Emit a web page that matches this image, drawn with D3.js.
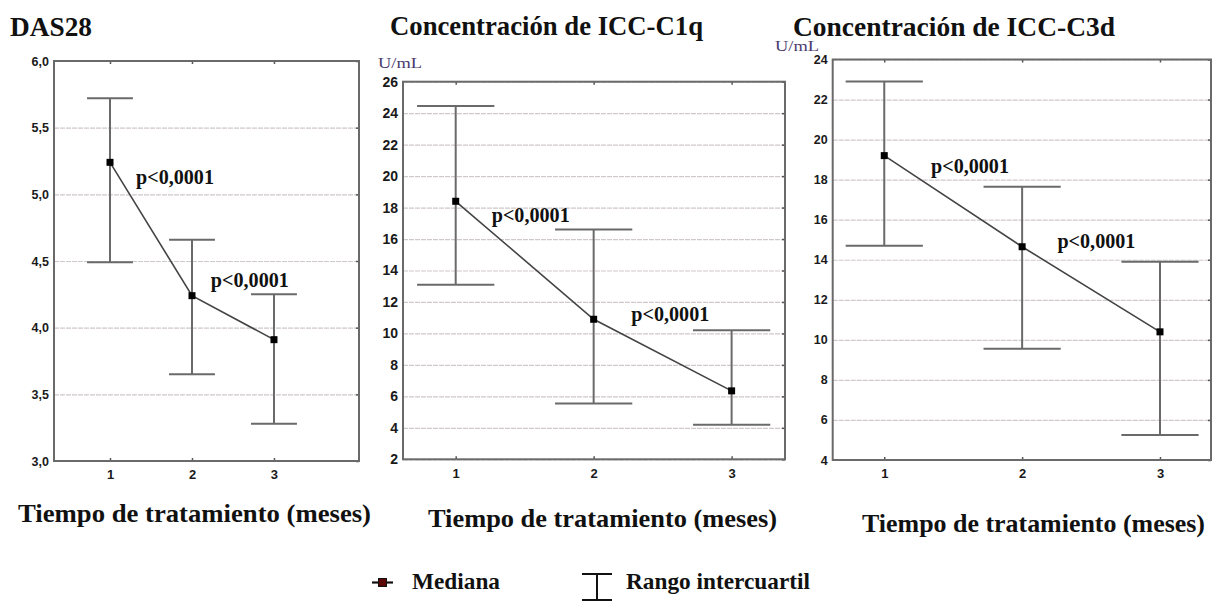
<!DOCTYPE html>
<html>
<head>
<meta charset="utf-8">
<script src="https://cdn.jsdelivr.net/npm/d3@7"></script>
<style>
  html, body { margin: 0; padding: 0; background: #fff; }
  svg { display: block; }
  .serif { font-family: 'Liberation Serif', Tinos, 'Times New Roman', Times, 'DejaVu Serif', serif; }
  .sans { font-family: 'Liberation Sans', Arial, sans-serif; }
</style>
</head>
<body>
<div id="chart"></div>
<script>
// Time points (months of treatment)
const timePoints = [1, 2, 3];

// DAS28: median and interquartile range
const das28Median = [5.24, 4.24, 3.91];
const das28Q1 = [4.49, 3.65, 3.28];
const das28Q3 = [5.72, 4.66, 4.25];
const das28Ticks = [3.0, 3.5, 4.0, 4.5, 5.0, 5.5, 6.0];
const das28TickLabels = ['3,0', '3,5', '4,0', '4,5', '5,0', '5,5', '6,0'];

// ICC-C1q (U/mL)
const c1qMedian = [18.4, 10.9, 6.35];
const c1qQ1 = [13.1, 5.55, 4.2];
const c1qQ3 = [24.45, 16.6, 10.2];
const c1qTicks = [2, 4, 6, 8, 10, 12, 14, 16, 18, 20, 22, 24, 26];

// ICC-C3d (U/mL)
const c3dMedian = [19.2, 14.65, 10.4];
const c3dQ1 = [14.7, 9.55, 5.25];
const c3dQ3 = [22.9, 17.65, 13.9];
const c3dTicks = [4, 6, 8, 10, 12, 14, 16, 18, 20, 22, 24];

const pLabel = 'p<0,0001';
const xLabel = 'Tiempo de tratamiento (meses)';

const width = 1215;
const height = 602;

const panels = [
    {
        title: 'DAS28', titleX: 10, titleY: 36, titleW: 82,
        unit: null,
        median: das28Median, q1: das28Q1, q3: das28Q3,
        ticks: das28Ticks, tickFmt: (d, i) => das28TickLabels[i], tickSize: 12.5,
        box: { l: 54, r: 359, t: 61, b: 461 },
        xDom: [0.317, 4.037], yDom: [3, 6],
        pPos: [[1.317, 5.08], [2.23, 4.305]],
        xLabelX: 18, xLabelY: 522, xLabelW: 353
    },
    {
        title: 'Concentración de ICC-C1q', titleX: 390, titleY: 35, titleW: 313,
        unit: { x: 378, y: 68 },
        median: c1qMedian, q1: c1qQ1, q3: c1qQ3,
        ticks: c1qTicks, tickFmt: d => d, tickSize: 14,
        box: { l: 403, r: 785, t: 81.7, b: 459.3 },
        xDom: [0.618, 3.387], yDom: [2, 26],
        pPos: [[1.261, 17.08], [2.273, 10.79]],
        xLabelX: 428, xLabelY: 527, xLabelW: 349
    },
    {
        title: 'Concentración de ICC-C3d', titleX: 793, titleY: 36, titleW: 322,
        unit: { x: 775, y: 51 },
        median: c3dMedian, q1: c3dQ1, q3: c3dQ3,
        ticks: c3dTicks, tickFmt: d => d, tickSize: 12.5,
        box: { l: 832.7, r: 1211, t: 59.5, b: 460 },
        xDom: [0.626, 3.37], yDom: [4, 24],
        pPos: [[1.339, 18.33], [2.256, 14.58]],
        xLabelX: 862, xLabelY: 532, xLabelW: 343
    }
];

const svg = d3.select('#chart')
    .append('svg')
    .attr('width', width)
    .attr('height', height)
    .attr('viewBox', `0 0 ${width} ${height}`);

const capHalf = 0.28; // half width of the IQR caps, in x units

panels.forEach(p => {
    const x = d3.scaleLinear().domain(p.xDom).range([p.box.l, p.box.r]);
    const y = d3.scaleLinear().domain(p.yDom).range([p.box.b, p.box.t]);
    const innerW = p.box.r - p.box.l;
    const g = svg.append('g');

    // Gridlines
    g.append('g')
        .attr('transform', `translate(${p.box.l},0)`)
        .call(d3.axisLeft(y).tickValues(p.ticks).tickSize(-innerW).tickFormat(''))
        .call(s => s.select('.domain').remove())
        .selectAll('.tick line')
        .attr('stroke', '#cfc8cc')
        .attr('stroke-width', 1.2)
        .attr('stroke-dasharray', '5,1');

    // Left axis with labels
    const yAxis = g.append('g')
        .attr('transform', `translate(${p.box.l},0)`)
        .call(d3.axisLeft(y).tickValues(p.ticks).tickSize(0).tickPadding(5).tickFormat(p.tickFmt));
    yAxis.select('.domain').remove();
    yAxis.attr('font-family', null).attr('font-size', null);
    yAxis.selectAll('text')
        .attr('class', 'sans')
        .attr('fill', '#1a1a1a')
        .attr('font-weight', 'bold')
        .attr('font-size', p.tickSize);

    // Right-side inward ticks
    g.append('g')
        .attr('transform', `translate(${p.box.r},0)`)
        .call(d3.axisRight(y).tickValues(p.ticks).tickSize(-3).tickFormat(''))
        .call(s => s.select('.domain').remove())
        .selectAll('.tick line').attr('stroke', '#555').attr('stroke-width', 1.5);

    // Bottom axis labels and ticks
    const xAxis = g.append('g')
        .attr('transform', `translate(0,${p.box.b})`)
        .call(d3.axisBottom(x).tickValues(timePoints).tickSize(-3).tickPadding(9).tickFormat(d3.format('d')));
    xAxis.select('.domain').remove();
    xAxis.attr('font-family', null).attr('font-size', null);
    xAxis.selectAll('.tick line').attr('stroke', '#555').attr('stroke-width', 1.5);
    xAxis.selectAll('text')
        .attr('class', 'sans')
        .attr('fill', '#1a1a1a')
        .attr('font-weight', 'bold')
        .attr('font-size', 13);

    // Top inward ticks
    g.append('g')
        .attr('transform', `translate(0,${p.box.t})`)
        .call(d3.axisTop(x).tickValues(timePoints).tickSize(-3).tickFormat(''))
        .call(s => s.select('.domain').remove())
        .selectAll('.tick line').attr('stroke', '#555').attr('stroke-width', 1.5);

    // Frame
    g.append('rect')
        .attr('x', p.box.l)
        .attr('y', p.box.t)
        .attr('width', innerW)
        .attr('height', p.box.b - p.box.t)
        .attr('fill', 'none')
        .attr('stroke', '#6a6a6a')
        .attr('stroke-width', 2);

    // Interquartile range bars
    const rows = timePoints.map((t, i) => ({ t, m: p.median[i], lo: p.q1[i], hi: p.q3[i] }));
    const bars = g.append('g').attr('stroke', '#6a6a6a').attr('stroke-width', 2).attr('fill', 'none');
    bars.selectAll('line.v').data(rows).enter().append('line')
        .attr('x1', d => x(d.t)).attr('x2', d => x(d.t))
        .attr('y1', d => y(d.lo)).attr('y2', d => y(d.hi));
    bars.selectAll('line.hi').data(rows).enter().append('line')
        .attr('x1', d => x(d.t - capHalf)).attr('x2', d => x(d.t + capHalf))
        .attr('y1', d => y(d.hi)).attr('y2', d => y(d.hi));
    bars.selectAll('line.lo').data(rows).enter().append('line')
        .attr('x1', d => x(d.t - capHalf)).attr('x2', d => x(d.t + capHalf))
        .attr('y1', d => y(d.lo)).attr('y2', d => y(d.lo));

    // Median line
    g.append('path')
        .datum(rows)
        .attr('fill', 'none')
        .attr('stroke', '#444')
        .attr('stroke-width', 1.6)
        .attr('d', d3.line().x(d => x(d.t)).y(d => y(d.m)));

    // Median markers
    g.selectAll('rect.marker').data(rows).enter().append('rect')
        .attr('x', d => x(d.t) - 3.5)
        .attr('y', d => y(d.m) - 3.5)
        .attr('width', 7)
        .attr('height', 7)
        .attr('fill', '#000');

    // p-value annotations
    p.pPos.forEach(pos => {
        g.append('text')
            .attr('class', 'serif')
            .attr('x', x(pos[0]))
            .attr('y', y(pos[1]))
            .attr('textLength', 78)
            .attr('lengthAdjust', 'spacingAndGlyphs')
            .attr('font-weight', 'bold')
            .attr('font-size', 20)
            .attr('fill', '#111')
            .text(pLabel);
    });

    // Panel title
    svg.append('text')
        .attr('class', 'serif')
        .attr('x', p.titleX)
        .attr('y', p.titleY)
        .attr('textLength', p.titleW)
        .attr('lengthAdjust', 'spacingAndGlyphs')
        .attr('font-weight', 'bold')
        .attr('font-size', 27)
        .attr('fill', '#111')
        .text(p.title);

    // Unit label
    if (p.unit) {
        svg.append('text')
            .attr('class', 'serif')
            .attr('x', p.unit.x)
            .attr('y', p.unit.y)
            .attr('textLength', 44)
            .attr('lengthAdjust', 'spacingAndGlyphs')
            .attr('font-size', 14)
            .attr('fill', '#4a3a6e')
            .text('U/mL');
    }

    // X axis title
    svg.append('text')
        .attr('class', 'serif')
        .attr('x', p.xLabelX)
        .attr('y', p.xLabelY)
        .attr('textLength', p.xLabelW)
        .attr('lengthAdjust', 'spacingAndGlyphs')
        .attr('font-weight', 'bold')
        .attr('font-size', 25.5)
        .attr('fill', '#111')
        .text(xLabel);
});

// Legend
const legend = svg.append('g');
legend.append('line')
    .attr('x1', 372).attr('x2', 393).attr('y1', 582.5).attr('y2', 582.5)
    .attr('stroke', '#111').attr('stroke-width', 2.2);
legend.append('rect')
    .attr('x', 378.5).attr('y', 578.5).attr('width', 8).attr('height', 8)
    .attr('fill', '#5a0606').attr('stroke', '#111').attr('stroke-width', 1);
legend.append('text')
    .attr('class', 'serif')
    .attr('x', 412).attr('y', 589)
    .attr('textLength', 88).attr('lengthAdjust', 'spacingAndGlyphs')
    .attr('font-weight', 'bold').attr('font-size', 23)
    .attr('fill', '#111')
    .text('Mediana');

const ib = legend.append('g').attr('stroke', '#111').attr('stroke-width', 2);
ib.append('line').attr('x1', 582).attr('x2', 612).attr('y1', 574).attr('y2', 574);
ib.append('line').attr('x1', 597).attr('x2', 597).attr('y1', 574).attr('y2', 600);
ib.append('line').attr('x1', 582).attr('x2', 612).attr('y1', 600).attr('y2', 600);
legend.append('text')
    .attr('class', 'serif')
    .attr('x', 626).attr('y', 589)
    .attr('textLength', 184).attr('lengthAdjust', 'spacingAndGlyphs')
    .attr('font-weight', 'bold').attr('font-size', 23)
    .attr('fill', '#111')
    .text('Rango intercuartil');
</script>
</body>
</html>
